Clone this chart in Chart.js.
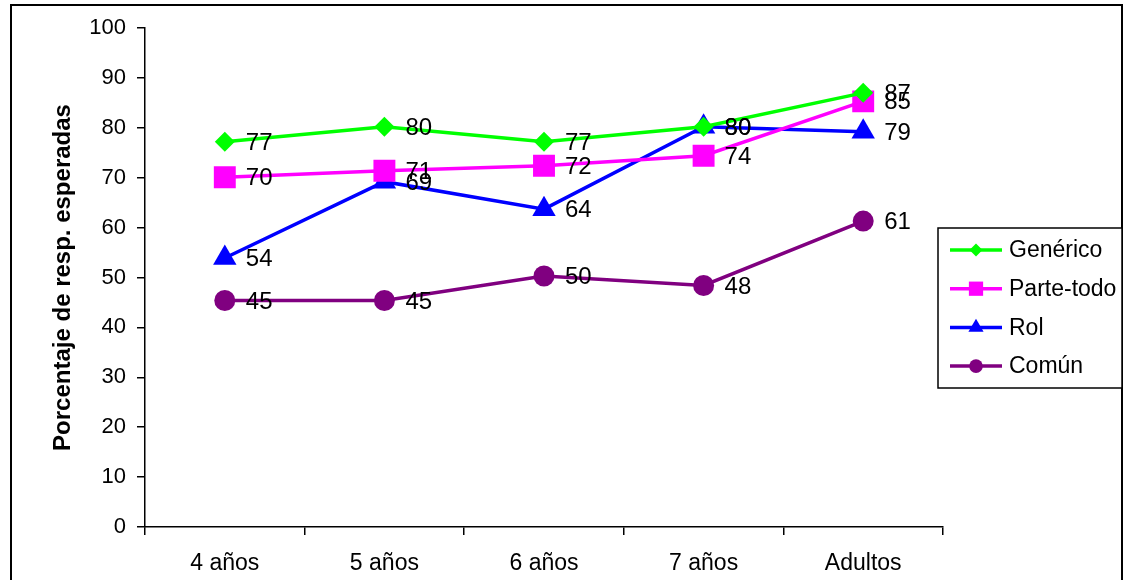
<!DOCTYPE html>
<html lang="es">
<head>
<meta charset="UTF-8">
<title>Porcentaje de resp. esperadas</title>
<script src="https://cdn.jsdelivr.net/npm/chart.js"></script>
<style>
  html, body { margin: 0; padding: 0; background: #fff; }
  #wrap { width: 1132px; height: 580px; }
</style>
</head>
<body>
<div id="wrap"><canvas id="chart" width="1132" height="580"></canvas></div>
<script>
// categories and values
const categories = ['4 años', '5 años', '6 años', '7 años', 'Adultos'];
const generico = [77.2, 80.2, 77.2, 80.2, 87.0];
const parteTodo = [70.1, 71.4, 72.4, 74.4, 85.3];
const rol = [53.9, 69.2, 63.7, 80.2, 79.2];
const comun = [45.4, 45.4, 50.3, 48.4, 61.3];
const yTicks = [0, 10, 20, 30, 40, 50, 60, 70, 80, 90, 100];

const FONT = '"Liberation Sans", Arial, sans-serif';

const series = [
  { label: 'Genérico', data: generico, color: '#00ff00', style: 'rectRot', r: 10 },
  { label: 'Parte-todo', data: parteTodo, color: '#ff00ff', style: 'rect', r: 15.5 },
  { label: 'Rol', data: rol, color: '#0000ff', style: 'triangle', r: 13.5 },
  { label: 'Común', data: comun, color: '#800080', style: 'circle', r: 10.5 }
];

// outer frame, value labels and the boxed legend
const decor = {
  id: 'decor',
  beforeDraw(chart) {
    const ctx = chart.ctx;
    ctx.save();
    ctx.strokeStyle = '#000';
    ctx.lineWidth = 2;
    ctx.strokeRect(11, 5, 1111, 620);
    ctx.restore();
  },
  afterDatasetsDraw(chart) {
    const ctx = chart.ctx;
    ctx.save();
    ctx.fillStyle = '#000';
    ctx.font = '24px ' + FONT;
    ctx.textAlign = 'left';
    ctx.textBaseline = 'middle';
    chart.data.datasets.forEach((ds, i) => {
      chart.getDatasetMeta(i).data.forEach((pt, j) => {
        ctx.fillText(String(Math.round(ds.data[j])), pt.x + 21, pt.y + 1.5);
      });
    });
    ctx.restore();
  },
  afterDraw(chart) {
    const ctx = chart.ctx;
    const bx = 938, by = 228, bw = 184, bh = 160;
    ctx.save();
    ctx.fillStyle = '#fff';
    ctx.fillRect(bx, by, bw, bh);
    ctx.strokeStyle = '#000';
    ctx.lineWidth = 1.5;
    ctx.strokeRect(bx, by, bw, bh);
    ctx.font = '23px ' + FONT;
    ctx.textBaseline = 'middle';
    series.forEach((s, i) => {
      const y = by + 22 + i * 38.7;
      ctx.strokeStyle = s.color;
      ctx.lineWidth = 3.5;
      ctx.beginPath();
      ctx.moveTo(950, y);
      ctx.lineTo(1002, y);
      ctx.stroke();
      ctx.fillStyle = s.color;
      Chart.helpers.drawPoint(ctx, {
        pointStyle: s.style, radius: s.r * 0.65, rotation: 0, borderWidth: 0
      }, 976, y);
      ctx.fillStyle = '#000';
      ctx.fillText(s.label, 1009, y + 1);
    });
    ctx.restore();
  }
};

new Chart(document.getElementById('chart'), {
  type: 'line',
  data: {
    labels: categories,
    datasets: series.map(s => ({
      label: s.label,
      data: s.data,
      borderColor: s.color,
      backgroundColor: s.color,
      pointBackgroundColor: s.color,
      pointBorderColor: s.color,
      pointBorderWidth: 0,
      pointStyle: s.style,
      pointRadius: s.r,
      pointHoverRadius: s.r,
      borderWidth: 3.5,
      tension: 0,
      fill: false
    }))
  },
  options: {
    responsive: false,
    animation: false,
    events: [],
    layout: { padding: { left: 40, right: 189, top: 28, bottom: 0 } },
    plugins: {
      legend: { display: false },
      tooltip: { enabled: false }
    },
    scales: {
      x: {
        type: 'category',
        offset: true,
        grid: { offset: true, drawOnChartArea: false, drawTicks: true, tickLength: 8, color: '#000', lineWidth: 1.5 },
        border: { color: '#000', width: 1.5 },
        ticks: { color: '#000', font: { family: FONT, size: 23 }, padding: 15, maxRotation: 0 },
        afterFit(scale) { scale.height = 53; }
      },
      y: {
        min: 0,
        max: 100,
        afterBuildTicks(scale) { scale.ticks = yTicks.map(v => ({ value: v })); },
        grid: { drawOnChartArea: false, drawTicks: true, tickLength: 8, color: '#000', lineWidth: 1.5 },
        border: { color: '#000', width: 1.5 },
        ticks: { color: '#000', font: { family: FONT, size: 22 }, padding: 11 },
        title: {
          display: true,
          text: 'Porcentaje de resp. esperadas',
          color: '#000',
          font: { family: FONT, size: 24, weight: 'bold' },
          padding: { top: 9, bottom: 0 }
        },
        afterFit(scale) { scale.width = 105; }
      }
    }
  },
  plugins: [decor]
});
</script>
</body>
</html>
